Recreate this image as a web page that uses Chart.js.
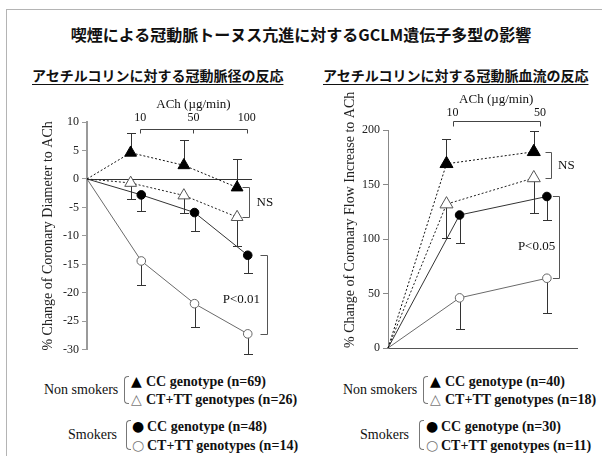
<!DOCTYPE html>
<html>
<head>
<meta charset="utf-8">
<script src="https://cdn.jsdelivr.net/npm/chart.js@4.4.1/dist/chart.umd.min.js"></script>
<style>
  html, body { margin: 0; padding: 0; background: #fff; }
  #page { position: relative; width: 602px; height: 456px; overflow: hidden; background: #fff; }
  #frame { position: absolute; left: 6px; top: 9px; width: 640px; height: 500px; border: 1px solid #b4b4b4; }
  .jp { position: absolute; white-space: nowrap; font-family: "Noto Sans CJK JP", sans-serif; font-weight: 700; color: #111; }
  #title { left: 0; width: 602px; text-align: center; top: 21px; font-size: 16px; line-height: 26px; }
  .sub { top: 66px; font-size: 14px; line-height: 18px; text-decoration: underline; text-decoration-thickness: 1px; text-underline-offset: 3px; }
  #subL { left: 32px; }
  #subR { left: 323px; }
  .plot { position: absolute; top: 88px; }
  #diameterChart { left: 0; }
  #flowChart { left: 300px; }
  .lg { position: absolute; font-family: "Liberation Serif", "Times New Roman", serif; color: #111; white-space: nowrap; }
  .grp { font-size: 14px; line-height: 18px; }
  .item { font-size: 14px; font-weight: bold; line-height: 18px; }
  .brace { position: absolute; width: 4px; border: 1px solid #777; border-right: none; border-radius: 4px 0 0 4px; }
  .sym { font-family: "DejaVu Sans", sans-serif; font-weight: normal; font-size: 14px; display: inline-block; width: 15px; }
  .dark { color: #000; }
  .light { color: #777; }
</style>
</head>
<body>
<div id="page">
  <div id="frame"></div>
  <div id="title" class="jp">喫煙による冠動脈トーヌス亢進に対するGCLM遺伝子多型の影響</div>
  <div id="subL" class="jp sub">アセチルコリンに対する冠動脈径の反応</div>
  <div id="subR" class="jp sub">アセチルコリンに対する冠動脈血流の反応</div>

  <canvas id="diameterChart" class="plot" width="300" height="272"></canvas>
  <canvas id="flowChart" class="plot" width="302" height="272"></canvas>

  <!-- legend, coronary diameter panel -->
  <div class="lg grp" style="left:44px; top:381px;">Non smokers</div>
  <div class="brace" style="left:124px; top:376px; height:26px;"></div>
  <div class="lg item" style="left:131px; top:372px;"><span class="sym dark">▲</span>CC genotype (n=69)</div>
  <div class="lg item" style="left:131px; top:390px;"><span class="sym light">△</span>CT+TT genotypes (n=26)</div>
  <div class="lg grp" style="left:68px; top:426px;">Smokers</div>
  <div class="brace" style="left:126px; top:420px; height:28px;"></div>
  <div class="lg item" style="left:132px; top:417px;"><span class="sym dark">●</span>CC genotype (n=48)</div>
  <div class="lg item" style="left:132px; top:436px;"><span class="sym light">○</span>CT+TT genotypes (n=14)</div>

  <!-- legend, coronary flow panel -->
  <div class="lg grp" style="left:343px; top:381px;">Non smokers</div>
  <div class="brace" style="left:423px; top:376px; height:26px;"></div>
  <div class="lg item" style="left:430px; top:372px;"><span class="sym dark">▲</span>CC genotype (n=40)</div>
  <div class="lg item" style="left:430px; top:390px;"><span class="sym light">△</span>CT+TT genotypes (n=18)</div>
  <div class="lg grp" style="left:360px; top:426px;">Smokers</div>
  <div class="brace" style="left:419px; top:420px; height:28px;"></div>
  <div class="lg item" style="left:426px; top:417px;"><span class="sym dark">●</span>CC genotype (n=30)</div>
  <div class="lg item" style="left:426px; top:436px;"><span class="sym light">○</span>CT+TT genotypes (n=11)</div>
</div>

<script>
// ACh doses (µg/min)
const diameterDoses = ['10', '50', '100'];
const flowDoses = ['10', '50'];

// % change of coronary diameter; index 0 is the pre-infusion baseline
const diamNonCC    = [0, 4.6, 2.4, -1.5];
const diamNonCCErr = [null, 3.4, 4.4, 5.0];
const diamNonCT    = [0, -0.7, -2.9, -6.7];
const diamNonCTErr = [null, 2.8, 3.1, 5.1];
const diamSmkCC    = [0, -2.8, -5.9, -13.4];
const diamSmkCCErr = [null, 2.9, 3.2, 3.2];
const diamSmkCT    = [0, -14.4, -21.9, -27.2];
const diamSmkCTErr = [null, 4.2, 4.1, 3.5];

// % change of coronary flow increase; index 0 is the baseline
const flowNonCC    = [0, 169, 180];
const flowNonCCErr = [null, 23, 19];
const flowNonCT    = [0, 132, 156];
const flowNonCTErr = [null, 31, 32];
const flowSmkCC    = [0, 122, 139];
const flowSmkCCErr = [null, 26, 22];
const flowSmkCT    = [0, 46, 64];
const flowSmkCTErr = [null, 29, 32];

// y-axis ticks
const diameterTicks = { min: -30, max: 10, step: 5 };
const flowTicks = { min: 0, max: 200, step: 50 };

// ---- layout / styling ----
const SERIF = '"Liberation Serif", "Times New Roman", serif';
const diameterPos = [0, 1, 2, 3];
const flowPos = [0, 0.74, 1.74];

function style(kind, triR) {
  const hideFirst = r => ctx => (ctx.dataIndex === 0 ? 0 : r);
  const s = {
    nonCC: { borderColor: '#111', borderDash: [2, 2], pointStyle: 'triangle', r: triR, bg: '#000', pb: '#000' },
    nonCT: { borderColor: '#222', borderDash: [2, 2], pointStyle: 'triangle', r: triR, bg: '#fff', pb: '#555' },
    smkCC: { borderColor: '#333', borderDash: [], pointStyle: 'circle', r: 4.3, bg: '#000', pb: '#000' },
    smkCT: { borderColor: '#6a6a6a', borderDash: [], pointStyle: 'circle', r: 4.3, bg: '#fff', pb: '#666' }
  }[kind];
  return {
    borderColor: s.borderColor, borderWidth: 1, borderDash: s.borderDash,
    pointStyle: s.pointStyle, pointRadius: hideFirst(s.r),
    pointBackgroundColor: s.bg, pointBorderColor: s.pb, pointBorderWidth: 1,
    tension: 0, fill: false, clip: false
  };
}

function series(values, errors, errDir, pos, dodge, st) {
  return Object.assign({
    data: values.map((v, i) => ({ x: i === 0 ? 0 : pos[i] + dodge, y: v })),
    errors: errors, errDir: errDir
  }, st);
}

// per-chart annotation settings (dose bracket, significance brackets)
const notes = {
  diameterChart: {
    dosePos: [1, 2, 3], doseLabels: diameterDoses,
    achY: 17, labelY: 30, bracketY: 40.5, tickDown: 4,
    zeroLine: true,
    sig: [
      { a: 0, b: 1, text: 'NS', dx: 2, arm: 7, textSide: 'right', gap: 7, dy: 0 },
      { a: 2, b: 3, text: 'P<0.01', dx: 20, arm: 7, textSide: 'left', gap: 7.5, dy: 5 }
    ]
  },
  flowChart: {
    dosePos: [0.74, 1.74], doseLabels: flowDoses,
    achY: 12, labelY: 25, bracketY: 32.7, tickDown: 5,
    zeroLine: false,
    sig: [
      { a: 0, b: 1, text: 'NS', dx: 10.7, arm: 6, textSide: 'right', gap: 6.5, dy: 0 },
      { a: 2, b: 3, text: 'P<0.05', dx: 19.3, arm: 6.6, textSide: 'left', gap: 4.3, dy: 9 }
    ]
  }
};

const figureNotes = {
  id: 'figureNotes',
  beforeDatasetsDraw(chart) {
    const cfg = notes[chart.canvas.id];
    const { ctx, scales: { x, y }, chartArea } = chart;
    ctx.save();
    if (cfg.zeroLine) {
      const y0 = Math.round(y.getPixelForValue(0)) + 0.5;
      ctx.strokeStyle = '#333';
      ctx.lineWidth = 1;
      ctx.beginPath();
      ctx.moveTo(chartArea.left, y0);
      ctx.lineTo(chartArea.right, y0);
      ctx.stroke();
    }
    // error bars (one-sided), drawn under the markers
    ctx.strokeStyle = '#333';
    ctx.lineWidth = 1;
    chart.data.datasets.forEach(ds => {
      ds.data.forEach((p, i) => {
        const e = ds.errors[i];
        if (e == null) return;
        const px = Math.round(x.getPixelForValue(p.x)) + 0.5;
        const y0 = y.getPixelForValue(p.y);
        const y1 = Math.round(y.getPixelForValue(p.y + ds.errDir * e)) + 0.5;
        ctx.beginPath();
        ctx.moveTo(px, y0);
        ctx.lineTo(px, y1);
        ctx.moveTo(px - 4.5, y1);
        ctx.lineTo(px + 4.5, y1);
        ctx.stroke();
      });
    });
    ctx.restore();
  },
  afterDraw(chart) {
    const cfg = notes[chart.canvas.id];
    const { ctx, scales: { x, y } } = chart;
    const ds = chart.data.datasets;
    ctx.save();
    ctx.fillStyle = '#111';
    ctx.textBaseline = 'middle';
    // dose axis on top
    const xs = cfg.dosePos.map(p => x.getPixelForValue(p));
    ctx.font = '13px ' + SERIF;
    ctx.textAlign = 'center';
    ctx.fillText('ACh (\u00b5g/min)', (xs[0] + xs[xs.length - 1]) / 2, cfg.achY);
    ctx.font = '12px ' + SERIF;
    cfg.doseLabels.forEach((t, i) => ctx.fillText(t, xs[i], cfg.labelY));
    ctx.strokeStyle = '#444';
    ctx.lineWidth = 1;
    ctx.beginPath();
    const by = Math.round(cfg.bracketY) + 0.5;
    ctx.moveTo(Math.round(xs[0]) + 0.5, by);
    ctx.lineTo(Math.round(xs[xs.length - 1]) + 0.5, by);
    xs.forEach(px => {
      ctx.moveTo(Math.round(px) + 0.5, by);
      ctx.lineTo(Math.round(px) + 0.5, by + cfg.tickDown);
    });
    ctx.stroke();
    // significance brackets at the highest dose
    const lastPos = cfg.dosePos[cfg.dosePos.length - 1];
    ctx.font = '13px ' + SERIF;
    ctx.strokeStyle = '#555';
    cfg.sig.forEach(s => {
      const da = ds[s.a].data, db = ds[s.b].data;
      const ya = Math.round(y.getPixelForValue(da[da.length - 1].y)) + 0.5;
      const yb = Math.round(y.getPixelForValue(db[db.length - 1].y)) + 0.5;
      const bx = Math.round(x.getPixelForValue(lastPos) + s.dx) + 0.5;
      ctx.beginPath();
      ctx.moveTo(bx - s.arm, ya);
      ctx.lineTo(bx, ya);
      ctx.lineTo(bx, yb);
      ctx.lineTo(bx - s.arm, yb);
      ctx.stroke();
      const ty = (ya + yb) / 2 + s.dy;
      if (s.textSide === 'right') {
        ctx.textAlign = 'left';
        ctx.fillText(s.text, bx + s.gap, ty);
      } else {
        ctx.textAlign = 'right';
        ctx.fillText(s.text, bx - s.gap, ty);
      }
    });
    ctx.restore();
  }
};

function yAxis(t, title, o) {
  return {
    min: t.min, max: t.max,
    ticks: { stepSize: t.step, font: { family: SERIF, size: 12 }, color: '#222', padding: 3 },
    grid: { display: true, drawOnChartArea: false, drawTicks: true, tickLength: 5, color: o.axisColor, lineWidth: 1 },
    border: { display: true, color: o.axisColor, width: o.axisWidth },
    title: {
      display: true, text: title, align: o.titleAlign,
      font: { family: SERIF, size: 14 }, color: '#222',
      padding: { top: o.titleX - 8.4, bottom: 0 }
    },
    afterFit(s) { s.width = o.width; }
  };
}

function makeChart(id, datasets, xMax, yCfg, layoutPad, showBase) {
  return new Chart(document.getElementById(id), {
    type: 'line',
    data: { datasets: datasets },
    plugins: [figureNotes],
    options: {
      responsive: false, animation: false, events: [],
      layout: { padding: layoutPad, autoPadding: false },
      plugins: { legend: { display: false }, tooltip: { enabled: false } },
      scales: {
        x: {
          type: 'linear', min: 0, max: xMax, display: showBase ? true : false,
          ticks: { display: false }, grid: { display: false, drawTicks: false },
          border: { display: true, color: '#555', width: 1 },
          afterFit(s) { s.height = 0; }
        },
        y: yCfg
      }
    }
  });
}

makeChart('diameterChart', [
  series(diamNonCC, diamNonCCErr, 1, diameterPos, -0.18, style('nonCC', 6.8)),
  series(diamNonCT, diamNonCTErr, -1, diameterPos, -0.18, style('nonCT', 6.8)),
  series(diamSmkCC, diamSmkCCErr, -1, diameterPos, 0.02, style('smkCC')),
  series(diamSmkCT, diamSmkCTErr, -1, diameterPos, 0.02, style('smkCT'))
], 3.1,
  yAxis(diameterTicks, '% Change of Coronary Diameter to ACh',
    { axisColor: '#9a9a9a', axisWidth: 2, width: 87, titleX: 48, titleAlign: 'center' }),
  { top: 34, bottom: 10, left: 0, right: 48 }, false);

makeChart('flowChart', [
  series(flowNonCC, flowNonCCErr, 1, flowPos, -0.07, style('nonCC', 7.5)),
  series(flowNonCT, flowNonCTErr, -1, flowPos, -0.07, style('nonCT', 7.5)),
  series(flowSmkCC, flowSmkCCErr, -1, flowPos, 0.08, style('smkCC')),
  series(flowSmkCT, flowSmkCTErr, -1, flowPos, 0.08, style('smkCT'))
], 2.165,
  yAxis(flowTicks, '% Change of Coronary Flow Increase to ACh',
    { axisColor: '#888', axisWidth: 1, width: 88, titleX: 50, titleAlign: 'start' }),
  { top: 42, bottom: 12, left: 0, right: 25 }, true);
</script>
</body>
</html>
